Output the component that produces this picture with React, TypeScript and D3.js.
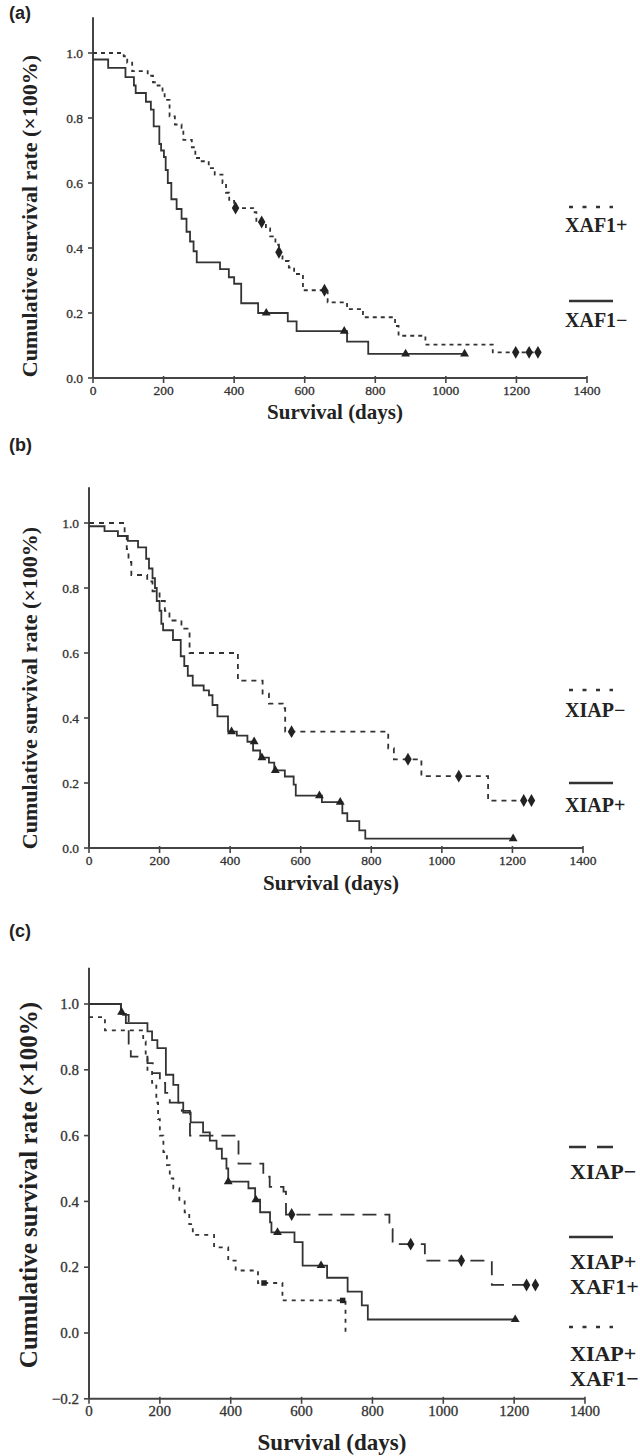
import React from "react";
import * as d3 from "d3";

type Pt = [number, number];

// x axis (days) and y axis ticks
const xTicks = [0, 200, 400, 600, 800, 1000, 1200, 1400];
const yTicksAB = [0, 0.2, 0.4, 0.6, 0.8, 1.0];
const yTicksC = [-0.2, 0, 0.2, 0.4, 0.6, 0.8, 1.0];

// (a) XAF1+ / XAF1-
const aXaf1Pos: Pt[] = [[0,1.0],[87,0.99],[97,0.97],[111,0.944],[155,0.93],[170,0.91],[183,0.9],[197,0.877],[203,0.856],[217,0.805],[232,0.78],[251,0.77],[256,0.733],[280,0.71],[290,0.677],[304,0.667],[328,0.646],[345,0.626],[367,0.6],[377,0.57],[386,0.545],[400,0.523],[454,0.51],[463,0.48],[490,0.46],[502,0.436],[517,0.41],[527,0.387],[537,0.36],[555,0.34],[570,0.32],[595,0.27],[665,0.233],[720,0.212],[765,0.187],[856,0.16],[866,0.13],[942,0.103],[1133,0.079],[1265,0.079]];
const aXaf1PosCens: Pt[] = [[404,0.523],[478,0.48],[527,0.387],[656,0.27],[1198,0.079],[1236,0.079],[1261,0.079]];
const aXaf1Neg: Pt[] = [[0,0.98],[43,0.954],[92,0.926],[116,0.9],[121,0.877],[150,0.85],[164,0.826],[172,0.774],[188,0.72],[193,0.7],[201,0.68],[206,0.64],[212,0.6],[222,0.55],[237,0.52],[251,0.49],[265,0.45],[275,0.42],[285,0.39],[294,0.356],[360,0.335],[385,0.31],[400,0.29],[420,0.23],[468,0.2],[552,0.174],[577,0.144],[720,0.112],[780,0.074],[1053,0.074]];
const aXaf1NegCens: Pt[] = [[491,0.2],[712,0.144],[886,0.074],[1053,0.074]];

// (b) XIAP- / XIAP+
const bXiapNeg: Pt[] = [[0,1.0],[101,0.96],[107,0.92],[112,0.88],[120,0.84],[165,0.82],[180,0.79],[200,0.76],[215,0.73],[228,0.7],[262,0.675],[285,0.6],[422,0.515],[492,0.475],[510,0.444],[549,0.43],[556,0.358],[848,0.307],[864,0.273],[942,0.221],[1131,0.146],[1262,0.146]];
const bXiapNegCens: Pt[] = [[574,0.358],[904,0.273],[1048,0.221],[1232,0.146],[1254,0.146]];
const bXiapPos: Pt[] = [[0,0.99],[44,0.975],[82,0.96],[110,0.945],[139,0.925],[162,0.89],[170,0.86],[180,0.83],[187,0.8],[192,0.76],[200,0.73],[205,0.69],[210,0.67],[238,0.64],[260,0.59],[270,0.56],[280,0.53],[294,0.5],[325,0.485],[340,0.47],[350,0.44],[364,0.405],[394,0.358],[419,0.346],[449,0.327],[465,0.3],[485,0.278],[510,0.263],[525,0.239],[555,0.22],[580,0.195],[586,0.161],[660,0.141],[718,0.107],[732,0.083],[766,0.054],[783,0.029],[1202,0.029]];
const bXiapPosCens: Pt[] = [[404,0.358],[468,0.327],[490,0.278],[528,0.239],[653,0.161],[712,0.141],[1202,0.029]];

// (c) XIAP- / XIAP+XAF1+ / XIAP+XAF1-
const cXiapNeg: Pt[] = [[0,1.0],[90,0.967],[112,0.88],[118,0.84],[165,0.82],[180,0.79],[200,0.76],[215,0.73],[228,0.7],[262,0.675],[285,0.6],[422,0.515],[492,0.475],[510,0.444],[549,0.43],[556,0.36],[848,0.316],[857,0.27],[948,0.22],[1137,0.146],[1265,0.146]];
const cXiapNegCens: Pt[] = [[572,0.36],[908,0.27],[1051,0.22],[1235,0.146],[1260,0.146]];
const cPosPos: Pt[] = [[0,1.0],[90,0.97],[104,0.942],[165,0.917],[178,0.89],[193,0.866],[217,0.785],[238,0.754],[252,0.7],[266,0.67],[287,0.64],[322,0.61],[341,0.585],[360,0.56],[375,0.53],[388,0.5],[393,0.46],[450,0.44],[469,0.405],[483,0.367],[511,0.336],[515,0.306],[580,0.276],[603,0.205],[672,0.168],[730,0.126],[770,0.084],[787,0.041],[1203,0.041]];
const cPosPosCens: Pt[] = [[92,0.975],[393,0.46],[471,0.405],[532,0.306],[655,0.205],[1203,0.041]];
const cPosNeg: Pt[] = [[0,0.96],[45,0.92],[153,0.886],[160,0.835],[165,0.8],[178,0.76],[190,0.7],[195,0.65],[200,0.6],[210,0.55],[220,0.51],[228,0.47],[238,0.44],[255,0.4],[270,0.367],[283,0.331],[293,0.298],[353,0.26],[393,0.22],[414,0.19],[477,0.152],[546,0.099],[724,0.0]];
const cPosNegCens: Pt[] = [[494,0.152],[716,0.099]];

const INK = "#333";
const SERIF = "'Liberation Serif', 'Times New Roman', serif";
const SANS = "'Liberation Sans', Arial, sans-serif";

type Curve = { data: Pt[]; cens: Pt[]; dash: string; marker: "diamond" | "triangle" | "square" };
type LegendItem = { dash: string; y: number; lines: string[]; textY: number };

type PanelProps = {
  label: string;
  labelY: number;
  x0: number;
  x1: number;
  yOne: number;
  yZero: number;
  yMin: number;
  yTicks: number[];
  curves: Curve[];
  legend: LegendItem[];
  legendX: number;
  legendSize: number;
  tickSize: number;
  titleSize: number;
  yTitleSize: number;
  xTitleY: number;
  yTitleY: number;
};

const symbols = {
  diamond: d3.symbol(d3.symbolDiamond, 48)(),
  triangle: d3.symbol(d3.symbolTriangle, 34)(),
  square: d3.symbol(d3.symbolSquare, 30)(),
};

function Panel(p: PanelProps) {
  const x = d3.scaleLinear().domain([0, 1400]).range([p.x0, p.x1]);
  const y = d3.scaleLinear().domain([0, 1]).range([p.yZero, p.yOne]);
  const line = d3
    .line<Pt>()
    .x((d) => x(d[0]))
    .y((d) => y(d[1]))
    .curve(d3.curveStepAfter);
  const axisY = y(p.yMin);
  const topY = y(1.11);

  return (
    <g>
      <text x={9} y={p.labelY} fontFamily={SANS} fontWeight="bold" fontSize={18} fill="#222">
        {p.label}
      </text>

      {/* axes */}
      <line x1={p.x0} x2={p.x0} y1={topY} y2={axisY} stroke="#444" strokeWidth={2} />
      <line x1={p.x0} x2={p.x1} y1={axisY} y2={axisY} stroke="#444" strokeWidth={2} />
      {p.yTicks.map((t) => (
        <g key={"y" + t}>
          <line x1={p.x0 - 5} x2={p.x0} y1={y(t)} y2={y(t)} stroke="#444" strokeWidth={1.6} />
          <text
            x={p.x0 - 10}
            y={y(t) + p.tickSize * 0.35}
            textAnchor="end"
            fontFamily={SERIF}
            fontSize={p.tickSize}
            fill="#333"
            stroke="#333"
            strokeWidth={0.3}
          >
            {t < 0 ? "\u2212" + Math.abs(t).toFixed(1) : t.toFixed(1)}
          </text>
        </g>
      ))}
      {xTicks.map((t) => (
        <g key={"x" + t}>
          <line x1={x(t)} x2={x(t)} y1={axisY - 2} y2={axisY + 5} stroke="#444" strokeWidth={1.6} />
          <text
            x={x(t)}
            y={axisY + 17}
            textAnchor="middle"
            fontFamily={SERIF}
            fontSize={p.tickSize}
            fill="#333"
            stroke="#333"
            strokeWidth={0.3}
          >
            {t}
          </text>
        </g>
      ))}

      {/* titles */}
      <text
        x={(p.x0 + p.x1) / 2 - 5}
        y={p.xTitleY}
        textAnchor="middle"
        fontFamily={SERIF}
        fontWeight="bold"
        fontSize={p.titleSize}
        fill="#222"
      >
        Survival (days)
      </text>
      <text
        transform={`translate(37,${p.yTitleY}) rotate(-90)`}
        textAnchor="middle"
        fontFamily={SERIF}
        fontWeight="bold"
        fontSize={p.yTitleSize}
        fill="#222"
      >
        Cumulative survival rate (×100%)
      </text>

      {/* curves */}
      {p.curves.map((c, i) => (
        <g key={"c" + i}>
          <path d={line(c.data) || ""} fill="none" stroke={INK} strokeWidth={1.8} strokeDasharray={c.dash} />
          {c.cens.map((d, j) => (
            <path key={j} d={symbols[c.marker] || ""} transform={`translate(${x(d[0])},${y(d[1])})`} fill="#222" />
          ))}
        </g>
      ))}

      {/* legend */}
      {p.legend.map((l, i) => (
        <g key={"l" + i}>
          <line x1={569} x2={613} y1={l.y} y2={l.y} stroke={INK} strokeWidth={2.5} strokeDasharray={l.dash} />
          {l.lines.map((s, k) => (
            <text
              key={k}
              x={p.legendX}
              y={l.textY + k * 25}
              fontFamily={SERIF}
              fontWeight="bold"
              fontSize={p.legendSize}
              fill="#222"
            >
              {s}
            </text>
          ))}
        </g>
      ))}
    </g>
  );
}

export default function App() {
  return (
    <div style={{ position: "absolute", left: 0, top: 0 }}>
      <svg width={640} height={1456} style={{ display: "block", background: "#fff" }}>
        <Panel
          label="(a)"
          labelY={19}
          x0={93}
          x1={587}
          yOne={53}
          yZero={378}
          yMin={0}
          yTicks={yTicksAB}
          curves={[
            { data: aXaf1Pos, cens: aXaf1PosCens, dash: "4,4", marker: "diamond" },
            { data: aXaf1Neg, cens: aXaf1NegCens, dash: "", marker: "triangle" },
          ]}
          legend={[
            { dash: "4,9.5", y: 207, lines: ["XAF1+"], textY: 232 },
            { dash: "", y: 301, lines: ["XAF1\u2212"], textY: 327 },
          ]}
          legendX={565}
          legendSize={20}
          tickSize={13.5}
          titleSize={21}
          yTitleSize={22}
          xTitleY={419}
          yTitleY={216}
        />
        <Panel
          label="(b)"
          labelY={451}
          x0={89}
          x1={583}
          yOne={523}
          yZero={848}
          yMin={0}
          yTicks={yTicksAB}
          curves={[
            { data: bXiapNeg, cens: bXiapNegCens, dash: "5,5", marker: "diamond" },
            { data: bXiapPos, cens: bXiapPosCens, dash: "", marker: "triangle" },
          ]}
          legend={[
            { dash: "4,9.5", y: 690, lines: ["XIAP\u2212"], textY: 717 },
            { dash: "", y: 783, lines: ["XIAP+"], textY: 812 },
          ]}
          legendX={565}
          legendSize={20}
          tickSize={13.5}
          titleSize={21}
          yTitleSize={22}
          xTitleY={890}
          yTitleY={688}
        />
        <Panel
          label="(c)"
          labelY={937}
          x0={89}
          x1={585}
          yOne={1004}
          yZero={1333}
          yMin={-0.2}
          yTicks={yTicksC}
          curves={[
            { data: cXiapNeg, cens: cXiapNegCens, dash: "14,8", marker: "diamond" },
            { data: cPosPos, cens: cPosPosCens, dash: "", marker: "triangle" },
            { data: cPosNeg, cens: cPosNegCens, dash: "4,5", marker: "square" },
          ]}
          legend={[
            { dash: "17,11", y: 1147, lines: ["XIAP\u2212"], textY: 1179 },
            { dash: "", y: 1237, lines: ["XIAP+", "XAF1+"], textY: 1269 },
            { dash: "4,9.5", y: 1327, lines: ["XIAP+", "XAF1\u2212"], textY: 1361 },
          ]}
          legendX={570}
          legendSize={22}
          tickSize={15}
          titleSize={23}
          yTitleSize={25}
          xTitleY={1450}
          yTitleY={1185}
        />
      </svg>
    </div>
  );
}
